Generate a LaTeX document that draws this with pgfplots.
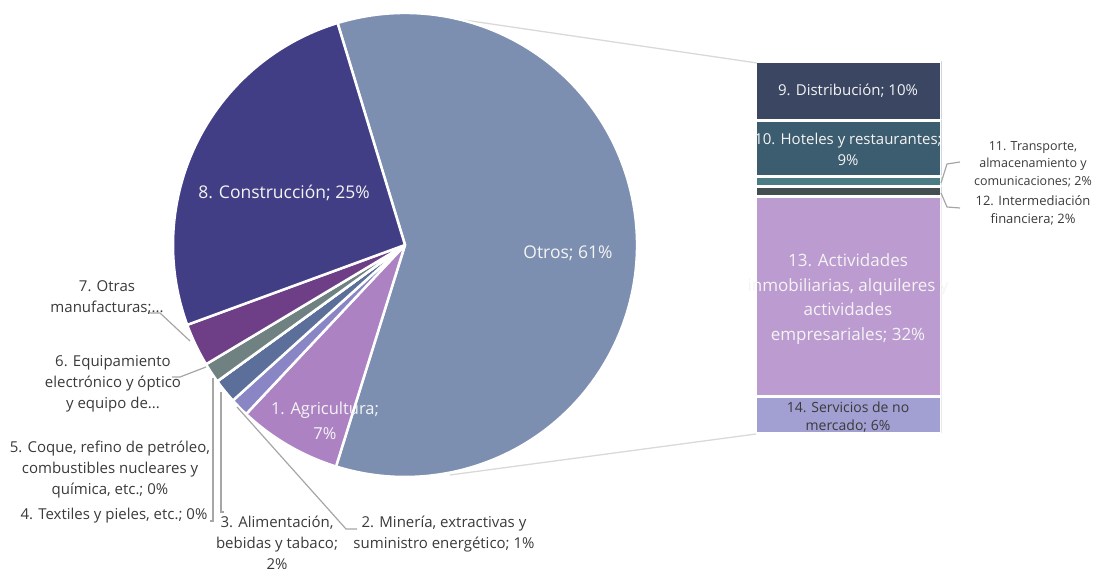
\documentclass[border=0pt]{standalone}
\usepackage{pgfplots}
\pgfplotsset{compat=1.18}
\usepackage{fontspec}
\setmainfont{Open Sans}
\definecolor{cOtros}{HTML}{7D8FB0}
\definecolor{cCon}{HTML}{423E85}
\definecolor{cOM}{HTML}{6E3F87}
\definecolor{cEq}{HTML}{6F8181}
\definecolor{cTex}{HTML}{4F6070}
\definecolor{cCoq}{HTML}{5A5A8A}
\definecolor{cAlim}{HTML}{5B6F9A}
\definecolor{cMin}{HTML}{8A86C6}
\definecolor{cAgri}{HTML}{AC82C3}
\definecolor{cDist}{HTML}{3A4662}
\definecolor{cHot}{HTML}{3C5C6F}
\definecolor{cTra}{HTML}{4B7C84}
\definecolor{cInt}{HTML}{444D4F}
\definecolor{cAct}{HTML}{BC9BD1}
\definecolor{cServ}{HTML}{A29FD3}
\definecolor{txt}{HTML}{3A3A3A}
\definecolor{lead}{HTML}{A6A6A6}
\definecolor{conn}{HTML}{D9D9D9}
\definecolor{wtxt}{HTML}{F4F4F4}
\begin{document}
\begin{tikzpicture}
\useasboundingbox (0,0) rectangle (1094pt,569pt);
% ---- bar of "Otros" ----
\begin{axis}[at={(755.5pt,135.5pt)}, anchor=south west, scale only axis,
  width=186pt, height=372pt, xmin=-0.5, xmax=0.5, ymin=0, ymax=59.6,
  hide axis, ybar stacked, bar width=186pt,
  every axis plot/.append style={draw=white, line width=3pt}]
\addplot[fill=cServ] coordinates {(0,6.0)};
\addplot[fill=cAct] coordinates {(0,31.9)};
\addplot[fill=cInt] coordinates {(0,1.6)};
\addplot[fill=cTra] coordinates {(0,1.6)};
\addplot[fill=cHot] coordinates {(0,9.1)};
\addplot[fill=cDist] coordinates {(0,9.4)};
\end{axis}
% ---- pie ----
\begin{axis}[at={(0,0)}, anchor=south west, x=1pt, y=1pt,
  xmin=0, xmax=1094, ymin=0, ymax=569, enlargelimits=false,
  hide axis, clip=false]
% connector lines (under the pie)
\draw[conn, line width=1.3pt] (430,554) -- (757,506);
\draw[conn, line width=1.3pt] (450,94) -- (756,135);
\xdef\cur{106.9}
\foreach \v/\c in {59.5/cOtros, 7.2/cAgri, 1.3/cMin, 1.7/cAlim, 0/cTex, 0/cCoq, 1.4/cEq, 3.0/cOM, 25.9/cCon} {
  \pgfmathsetmacro\nxt{\cur - 3.6*\v}
  \edef\temp{\noexpand\filldraw[fill=\c, draw=white, line width=2.5pt, line join=round] (axis cs:405,324) -- ++(\cur:232pt) arc[start angle=\cur, end angle=\nxt, radius=232pt] -- cycle;}
  \temp
  \xdef\cur{\nxt}
}
% leader lines
\draw[lead, line width=1.2pt] (148,256) -- (160,256) -- (190,228);
\draw[lead, line width=1.2pt] (172,192) -- (180,192) -- (206,202);
\draw[lead, line width=1.2pt] (213,191) -- (213,48) -- (210,48);
\draw[lead, line width=1.2pt] (221,177) -- (221,57) -- (224,57);
\draw[lead, line width=1.2pt] (237,162) -- (346,40) -- (357,40);
\draw[lead, line width=1.2pt] (941,386) -- (947,405) -- (960,407);
\draw[lead, line width=1.2pt] (941,376) -- (947,362) -- (960,361);
% labels inside
\node[wtxt, font=\fontsize{17.5}{21}\selectfont] at (568,316) {Otros; 61\%};
\node[wtxt, font=\fontsize{17.5}{21}\selectfont] at (284,376) {8. Construcción; 25\%};
\node[wtxt, font=\fontsize{16.5}{25}\selectfont, align=center] at (325,148) {1. Agricultura;\\7\%};
% labels outside
\begin{scope}[every node/.style={txt, font=\fontsize{15}{21}\selectfont, align=center}]
\node at (107,271) {7. Otras\\manufacturas;...};
\node at (113,185) {6. Equipamiento\\electrónico y óptico\\y equipo de...};
\node at (110,99) {5. Coque, refino de petróleo,\\combustibles nucleares y\\química, etc.; 0\%};
\node at (114,53) {4. Textiles y pieles, etc.; 0\%};
\node at (277,26) {3. Alimentación,\\bebidas y tabaco;\\2\%};
\node at (444,35) {2. Minería, extractivas y\\suministro energético; 1\%};
\end{scope}
% bar labels
\node[wtxt, font=\fontsize{15}{20}\selectfont] at (848,478) {9. Distribución; 10\%};
\node[wtxt, font=\fontsize{15}{21}\selectfont, align=center] at (848,420) {10. Hoteles y restaurantes;\\9\%};
\node[wtxt, font=\fontsize{17}{24.7}\selectfont, align=center] at (848,270) {13. Actividades\\inmobiliarias, alquileres y\\actividades\\empresariales; 32\%};
\node[txt, font=\fontsize{14}{18}\selectfont, align=center] at (848,152) {14. Servicios de no\\mercado; 6\%};
\node[txt, font=\fontsize{12.5}{17.5}\selectfont, align=center] at (1033,405) {11. Transporte,\\almacenamiento y\\comunicaciones; 2\%};
\node[txt, font=\fontsize{13}{18}\selectfont, align=center] at (1033,359) {12. Intermediación\\financiera; 2\%};
\end{axis}
\end{tikzpicture}
\end{document}
